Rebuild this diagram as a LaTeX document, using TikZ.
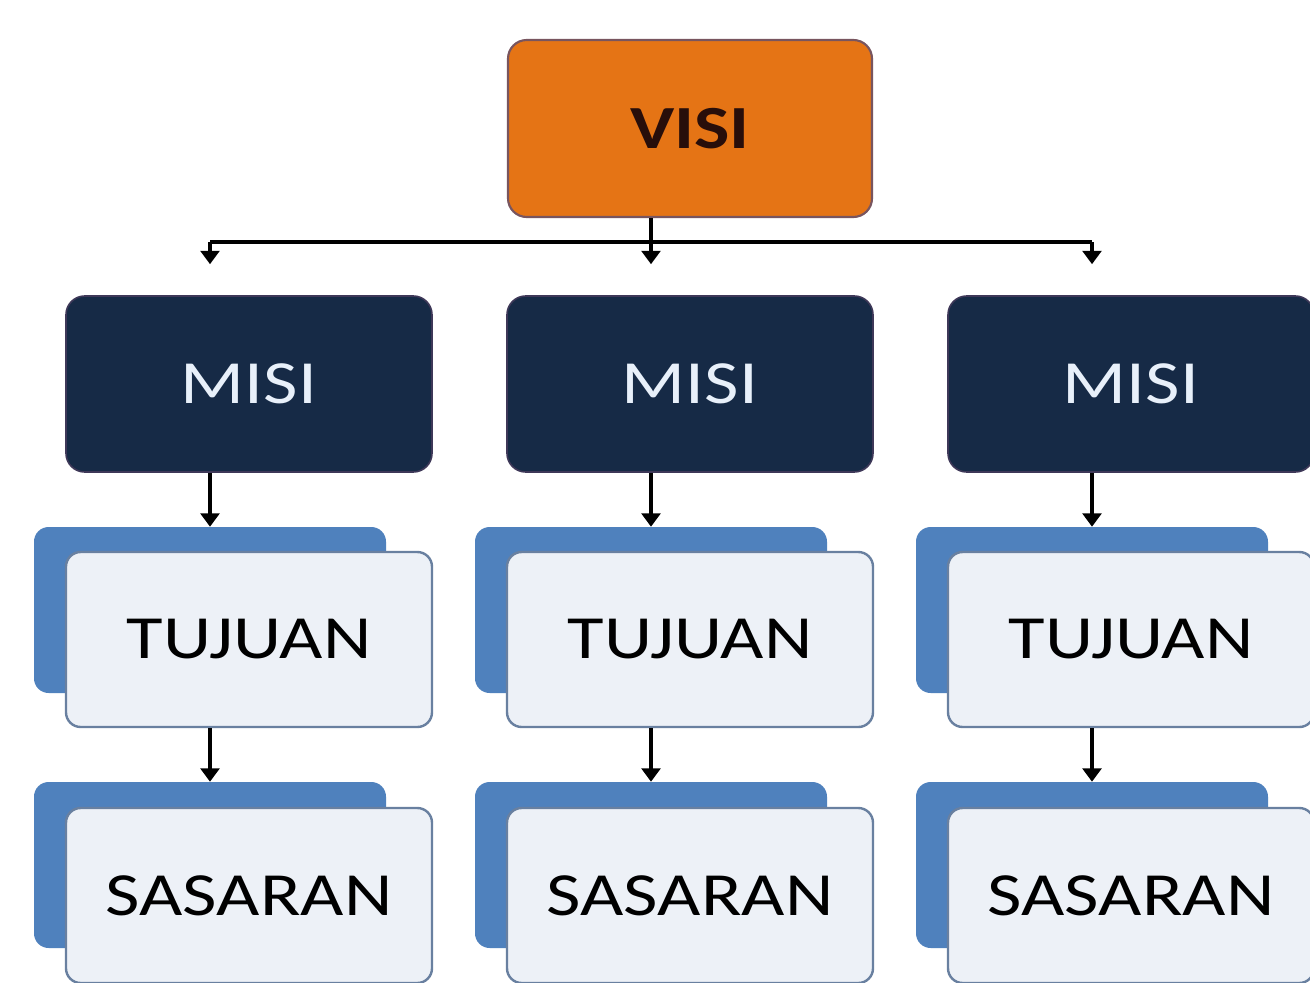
\documentclass[tikz,border=0pt]{standalone}
\usepackage{fontspec}
\setmainfont{Carlito}
\usepackage{graphicx}
\usetikzlibrary{arrows.meta,calc}

\definecolor{visiorange}{RGB}{229,116,21}
\definecolor{visiedge}{RGB}{120,85,95}
\definecolor{visitext}{RGB}{40,14,10}
\definecolor{misinavy}{RGB}{22,42,70}
\definecolor{misiedge}{RGB}{62,56,88}
\definecolor{misitext}{RGB}{232,240,250}
\definecolor{backblue}{RGB}{79,129,189}
\definecolor{frontfill}{RGB}{237,241,247}
\definecolor{frontedge}{RGB}{105,128,160}

% wide lettering as in the picture
\newcommand{\boxlabel}[1]{\scalebox{1.22}[1]{#1}}

\tikzset{
  bigfont/.style={font=\fontsize{46}{52}\selectfont},
  visibox/.style={bigfont, draw=visiedge, line width=1.6pt, fill=visiorange, text=visitext,
    rounded corners=14pt, minimum width=273pt, minimum height=132.75pt, inner sep=0pt},
  misibox/.style={bigfont, draw=misiedge, line width=1.2pt, fill=misinavy, text=misitext,
    rounded corners=14pt, minimum width=274.5pt, minimum height=132pt, inner sep=0pt},
  backbox/.style={fill=backblue, rounded corners=11pt,
    minimum width=264pt, minimum height=124.5pt, inner sep=0pt},
  frontbox/.style={bigfont, draw=frontedge, line width=1.8pt, fill=frontfill, text=black,
    rounded corners=11pt, minimum width=274.5pt, minimum height=131.25pt, inner sep=0pt},
  wire/.style={line width=2.6pt, black},
  arr/.style={wire, -{Triangle[width=14pt,length=10pt]}}
}

\begin{document}
\begin{tikzpicture}[x=0.75pt,y=0.75pt,yscale=-1,xscale=1]
\useasboundingbox (0,0) rectangle (1310,982);
\fill[white] (0,0) rectangle (1310,982);

% Top box
\node[visibox] (visi) at (690,128.5) {\boxlabel{\textbf{VISI}}};

% Columns
\foreach \i in {1,2,3}{
  \pgfmathsetmacro{\dx}{441*(\i-1)}
  \node[misibox] (misi\i) at (249+\dx,384) {\boxlabel{MISI}};
  \node[backbox] (tujb\i) at (210+\dx,610) {};
  \node[frontbox] (tuj\i) at (249+\dx,639.5) {\boxlabel{TUJUAN}};
  \node[backbox] (sasb\i) at (210+\dx,865) {};
  \node[frontbox] (sas\i) at (249+\dx,895.5) {\boxlabel{SASARAN}};
  \draw[arr] (tujb\i.north |- misi\i.south) -- (tujb\i.north);
  \draw[arr] (sasb\i.north |- tuj\i.south) -- (sasb\i.north);
}

% Branching from VISI
\coordinate (bus) at (0,242);
\draw[arr] (visi.south -| tujb2.north) -- ($(tujb2.north |- misi2.north)+(0,-31)$);
\draw[wire] (tujb1.north |- bus) -- (tujb3.north |- bus);
\foreach \i in {1,3}
  \draw[arr] (tujb\i.north |- bus) -- ($(tujb\i.north |- misi\i.north)+(0,-31)$);

\end{tikzpicture}
\end{document}
